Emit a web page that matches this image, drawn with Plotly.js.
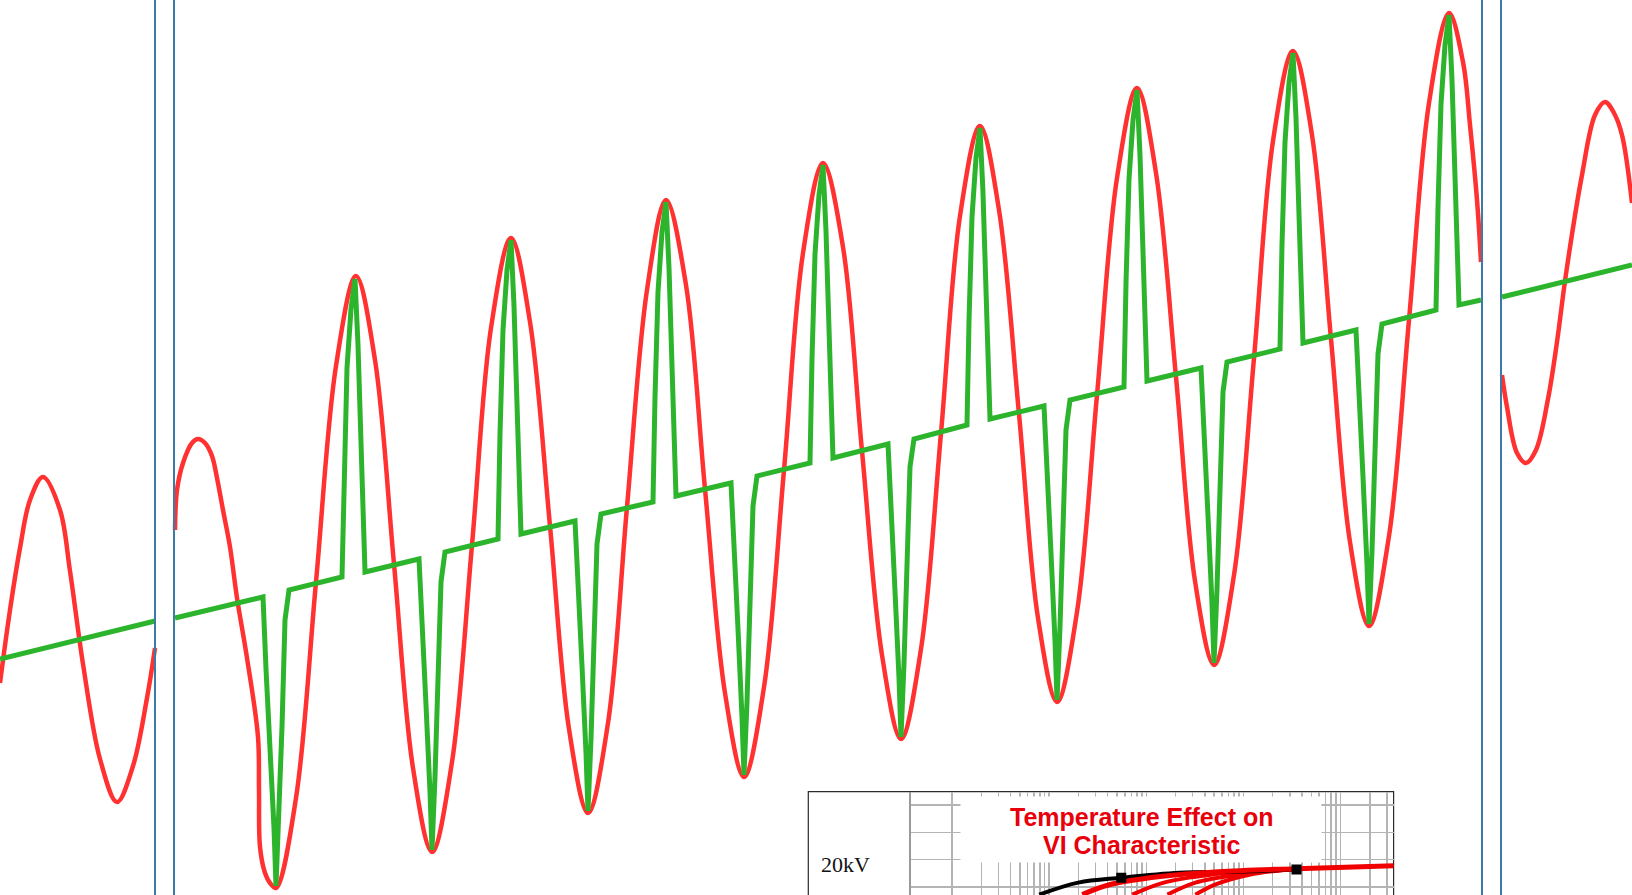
<!DOCTYPE html>
<html>
<head>
<meta charset="utf-8">
<script src="https://cdn.plot.ly/plotly-3.0.1.min.js"></script>
<style>html,body{margin:0;padding:0;background:#fff;}#chart{width:1632px;height:895px;}</style>
</head>
<body>
<div id="chart"></div>
<script>
// ---- main waveform data (x: time units, y: signal units) ----
const redLeftX = [0,10,20,30,43,60,70,83,100,117,133,147,155];
const redLeftY = [683,610,548,500,477,510,571,664,759,802,766,698,648];

const redMidX = [175,177,183,192,198,205,212,217,223,230,237,247,258,259,260,265,270,276,
  296,316,336,356, 375,394,413,432, 452,472,491,511, 530,550,569,588,
  608,627,647,666, 686,705,725,744, 764,784,803,823, 843,862,882,901,
  921,941,960,980, 999,1019,1038,1057, 1077,1097,1117,1137, 1156,1176,1195,1214,
  1234,1254,1273,1293, 1312,1331,1350,1369, 1389,1409,1429,1449, 1463,1470,1477,1481];
const redMidY = [530,490,463,443,439,443,456,478,510,547,598,658,737,790,847,873,883,888,
  798,582,366,276, 360,564,768,852, 762,545,328,238, 322,526,729,813,
  723,507,290,200, 285,489,693,777, 687,470,253,163, 247,451,655,739,
  649,433,216,126, 210,414,618,702, 612,395,178,88, 173,377,581,665,
  575,358,141,51, 135,339,542,626, 536,320,103,13, 62,125,200,262];

const redRightX = [1502,1507,1517,1526,1536,1548,1557,1566,1582,1595,1605,1614,1622,1632];
const redRightY = [375,407,453,463,450,399,342,274,175,115,102,113,135,203];

const greenLeftX = [0,155];
const greenLeftY = [659,621];

const greenMidX = [175,
  263,266,270,274,276,279,282,285,289,
  342,344,347,351,355,358,362,365,
  419,422,426,430,432,435,438,441,445,
  498,500,503,507,511,514,518,521,
  575,578,582,586,588,591,594,597,601,
  653,655,658,662,666,669,673,676,
  731,734,738,742,744,747,750,753,757,
  810,812,815,819,823,826,830,833,
  888,891,895,899,901,904,907,910,914,
  967,969,972,976,980,983,987,990,
  1044,1047,1051,1055,1057,1060,1063,1066,1070,
  1124,1126,1129,1133,1137,1140,1144,1147,
  1201,1204,1208,1212,1214,1217,1220,1223,1227,
  1280,1282,1285,1289,1293,1296,1300,1303,
  1356,1359,1363,1367,1369,1372,1375,1378,1382,
  1436,1438,1441,1445,1449,1452,1456,1459,
  1481];
const greenMidY = [618,
  597,669,742,828,886,814,727,620,590,
  577,473,368,309,279,345,458,572,
  559,632,705,792,850,777,690,582,552,
  539,434,330,270,240,306,419,534,
  521,594,666,753,811,739,652,544,514,
  502,397,292,232,202,268,382,496,
  483,556,629,717,775,702,614,506,476,
  463,359,254,195,165,231,344,458,
  444,517,591,678,737,664,576,467,439,
  425,321,217,158,128,193,306,419,
  406,480,553,641,700,627,538,430,400,
  387,283,179,120,90,155,268,381,
  368,442,516,604,663,589,501,392,362,
  349,245,142,83,53,118,231,343,
  330,404,477,565,624,551,462,354,324,
  310,207,104,45,15,80,192,305,
  300];

const greenRightX = [1502,1632];
const greenRightY = [297,265];

// ---- inset (VI characteristic) data: current (log) vs kV ----
const insetBlackX = [7.9,19.9,55.2,219,867,3519];
const insetBlackY = [13.6,15.8,16.7,17.6,17.8,18.2];
const insetMarkX = [55.2,3519];
const insetMarkY = [16.7,18.2];
const insetRed1X = [21.9,41.6,139,552,3519,36000];
const insetRed1Y = [13.6,15.4,16.9,17.8,18.35,18.9];
const insetRed2X = [71.7,151,457,3519];
const insetRed2Y = [13.6,15.8,17.25,18.35];
const insetRed3X = [165,320,878,3519];
const insetRed3Y = [13.6,15.8,17.25,18.35];
const insetRed4X = [320,502,1153,3519];
const insetRed4Y = [13.6,15.4,17.25,18.35];
const insetYTicks = [15,20,25,30];
const insetTitleLines = ['Temperature Effect on', 'VI Characteristic'];
const insetYLabel = '20kV';

function joinSegs(a, b, c) { return a.concat([null], b, [null], c); }

const RED = '#ff3131', GREEN = '#2db42d';

const traces = [
  { x: joinSegs(redLeftX, redMidX, redRightX), y: joinSegs(redLeftY, redMidY, redRightY),
    type: 'scatter', mode: 'lines', line: { color: RED, width: 4.5, shape: 'spline', smoothing: 1 },
    connectgaps: false, hoverinfo: 'skip' },
  { x: joinSegs(greenLeftX, greenMidX, greenRightX), y: joinSegs(greenLeftY, greenMidY, greenRightY),
    type: 'scatter', mode: 'lines', line: { color: GREEN, width: 5 },
    connectgaps: false, hoverinfo: 'skip' }
];

const insetRed = '#f00000';
[[insetRed4X, insetRed4Y], [insetRed3X, insetRed3Y], [insetRed2X, insetRed2Y]].forEach(function (p) {
  traces.push({ x: p[0], y: p[1], xaxis: 'x2', yaxis: 'y2', type: 'scatter', mode: 'lines',
    line: { color: insetRed, width: 4, shape: 'spline' }, hoverinfo: 'skip' });
});
traces.push({ x: insetBlackX, y: insetBlackY, xaxis: 'x2', yaxis: 'y2', type: 'scatter', mode: 'lines',
  line: { color: '#000', width: 4, shape: 'spline' }, hoverinfo: 'skip' });
traces.push({ x: insetRed1X, y: insetRed1Y, xaxis: 'x2', yaxis: 'y2', type: 'scatter', mode: 'lines',
  line: { color: insetRed, width: 5, shape: 'spline' }, hoverinfo: 'skip' });
traces.push({ x: insetMarkX, y: insetMarkY, xaxis: 'x2', yaxis: 'y2', type: 'scatter', mode: 'markers',
  marker: { symbol: 'square', size: 10, color: '#000' }, hoverinfo: 'skip' });

// log grid values for the inset
const gridVals = [];
[1, 10, 100, 1000, 10000].forEach(function (d) { for (let k = 1; k <= 9; k++) gridVals.push(k * d); });

const W = 1632, H = 895;
const sepColor = '#3a7ca6';
const shapes = [155, 174, 1482, 1501].map(function (x) {
  return { type: 'line', xref: 'x', yref: 'paper', x0: x, x1: x, y0: 0, y1: 1,
    line: { color: sepColor, width: 2 }, layer: 'above' };
});
shapes.push({ type: 'rect', xref: 'paper', yref: 'paper',
  x0: 808.3 / W, x1: 1393.6 / W, y0: -0.2, y1: (H - 791.7) / H,
  fillcolor: '#ffffff', line: { color: '#2a2a2a', width: 1.2 }, layer: 'below' });

const titleFont = { family: 'Liberation Sans, Arial, sans-serif', size: 25, color: '#e8000b' };

const layout = {
  width: W, height: H,
  margin: { l: 0, r: 0, t: 0, b: 0, pad: 0 },
  paper_bgcolor: '#ffffff', plot_bgcolor: 'rgba(0,0,0,0)',
  showlegend: false,
  xaxis: { range: [0, W], visible: false, domain: [0, 1], fixedrange: true },
  yaxis: { range: [H, 0], visible: false, domain: [0, 1], fixedrange: true },
  xaxis2: { type: 'log', range: [-0.4227, 4.546], domain: [911 / W, 1393.6 / W], anchor: 'y2',
    tickmode: 'array', tickvals: gridVals, showticklabels: false, ticks: '',
    showgrid: true, gridcolor: '#b4b4b4', gridwidth: 1.5, zeroline: false, showline: false },
  yaxis2: { range: [13.53, 32.44], domain: [0, (H - 791.7) / H], anchor: 'x2',
    tickmode: 'array', tickvals: insetYTicks, showticklabels: false, ticks: '',
    showgrid: true, gridcolor: '#b4b4b4', gridwidth: 1.5, zeroline: false,
    showline: true, linecolor: '#9a9a9a', linewidth: 2.5 },
  shapes: shapes,
  annotations: [
    { xref: 'x', yref: 'y', x: 1141, y: 829.5, text: ' ', showarrow: false,
      bgcolor: '#ffffff', width: 360, height: 65, borderpad: 0 },
    { xref: 'x', yref: 'y', x: 1141, y: 817, text: '<b>' + insetTitleLines[0] + '</b>', showarrow: false,
      font: titleFont, align: 'center' },
    { xref: 'x', yref: 'y', x: 1141, y: 845, text: '<b>' + insetTitleLines[1] + '</b>', showarrow: false,
      font: titleFont, align: 'center' },
    { xref: 'x', yref: 'y', x: 845, y: 864, text: insetYLabel, showarrow: false,
      font: { family: 'Liberation Serif, Times New Roman, serif', size: 22, color: '#111' } }
  ]
};

Plotly.newPlot('chart', traces, layout, { staticPlot: true, displayModeBar: false });
</script>
</body>
</html>
